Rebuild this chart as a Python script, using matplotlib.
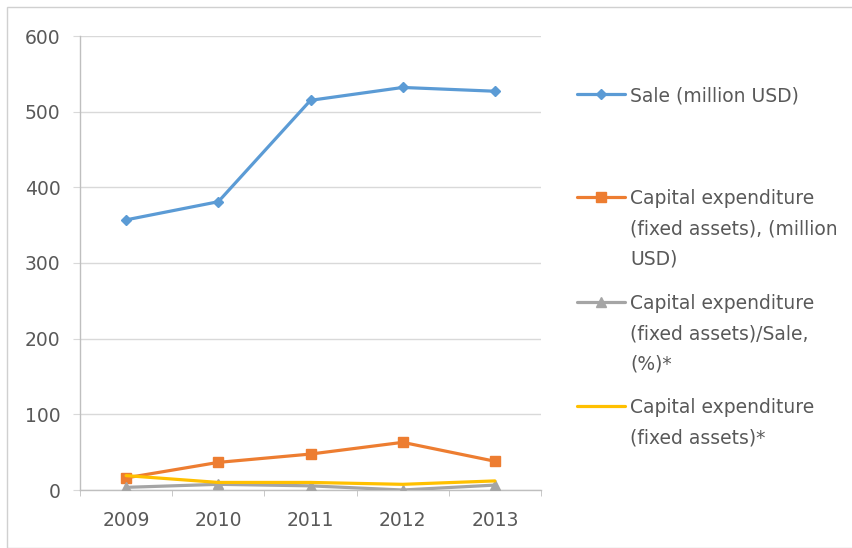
import matplotlib
matplotlib.use("Agg")
import matplotlib.pyplot as plt
from matplotlib.patches import Rectangle

years = ["2009", "2010", "2011", "2012", "2013"]
sale = [357, 381, 515, 532, 527]
capex = [16, 36.5, 47.5, 63, 38]
capex_ratio = [3.5, 7.5, 5.5, 0, 6.5]
capex_star = [19, 10, 10, 7.5, 12]

labels = [
    "Sale (million USD)",
    "Capital expenditure\n(fixed assets), (million\nUSD)",
    "Capital expenditure\n(fixed assets)/Sale,\n(%)*",
    "Capital expenditure\n(fixed assets)*",
]
colors = ["#5B9BD5", "#ED7D31", "#A5A5A5", "#FFC000"]
markers = ["D", "s", "^", None]
msizes = [5, 7, 7, 0]

plt.rcParams["font.family"] = ["DejaVu Sans"]
text_color = "#595959"
FS = 13.5

W, H = 852, 548
fig = plt.figure(figsize=(W / 100, H / 100), dpi=100)
fig.patch.set_facecolor("white")

# chart frame
fig.add_artist(Rectangle((7 / W, 0), 1, 1 - 7 / H, transform=fig.transFigure,
                         fill=False, edgecolor="#D0D0D0", linewidth=1))

ax = fig.add_axes([80 / W, (H - 490) / H, 461 / W, 454 / H])
x = list(range(len(years)))
series = [sale, capex, capex_ratio, capex_star]
handles = []
for vals, c, m, ms in zip(series, colors, markers, msizes):
    h, = ax.plot(x, vals, color=c, linewidth=2.3, marker=m, markersize=ms,
                 markeredgecolor=c, markerfacecolor=c, solid_capstyle="round",
                 zorder=3)
    handles.append(h)

ax.set_xlim(-0.5, len(years) - 0.5)
ax.set_ylim(0, 600)
ax.set_yticks(range(0, 601, 100))
ax.set_xticks(x)
ax.set_xticklabels(years)
ax.set_xticks([i + 0.5 for i in range(-1, len(years))], minor=True)
ax.grid(axis="y", color="#D9D9D9", linewidth=1, zorder=0)
ax.set_axisbelow(True)

for s in ["top", "right"]:
    ax.spines[s].set_visible(False)
for s in ["left", "bottom"]:
    ax.spines[s].set_color("#BFBFBF")
    ax.spines[s].set_linewidth(1)

ax.tick_params(axis="y", which="major", length=5, color="#D9D9D9",
               labelsize=FS, labelcolor=text_color, pad=9)
ax.tick_params(axis="x", which="major", length=0, labelsize=FS,
               labelcolor=text_color, pad=15)
ax.tick_params(axis="x", which="minor", length=4, color="#BFBFBF")

# legend entries, one per series, stacked on the right; the marker line
# sits level with the first line of each label
fs_px = FS * 100 / 72
legend_y = [95, 198, 303, 407]
for h, lab, y in zip(handles, labels, legend_y):
    lg = fig.legend([h], [lab], loc="upper left",
                    bbox_to_anchor=(577 / W, 1 - (y - 9) / H),
                    frameon=False, fontsize=FS, handlelength=48 / fs_px,
                    handleheight=22 / fs_px, handletextpad=5 / fs_px,
                    borderpad=0, borderaxespad=0, labelcolor=text_color)
    for t in lg.get_texts():
        t.set_linespacing(1.75)
    for col in lg._legend_handle_box.get_children():
        for row in col.get_children():
            row.align = "top"

fig.savefig("out.png", dpi=100, facecolor="white")
